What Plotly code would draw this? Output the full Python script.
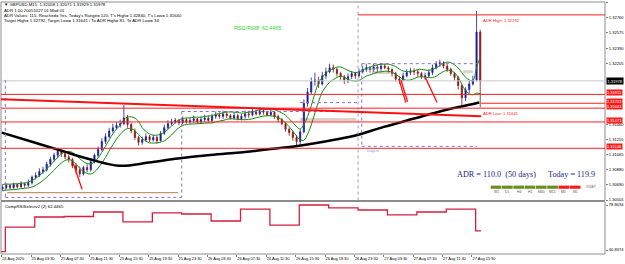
import pandas as pd
import plotly.graph_objects as go

# ---------------- data ----------------
header_lines = [
    "\u25bc GBPUSD,M15  1.32058 1.32071 1.31929 1.31978",
    "ADR 1.00 20051027 01 Mod 01",
    "ADR Values: 115, Reached= Yes, Today's Range= 120, T's High= 1.32840, T's Low= 1.31640",
    "Target High= 1.32792, Target Low= 1.31641 / To ADR High= 81, To ADR Low= 34",
]
candle_start = "2020-08-24 23:37:30"   # centre of first 30-min candle
first_open = 1.3065
closes = [
    1.3066, 1.3069, 1.3066, 1.3070, 1.3067, 1.3071, 1.3069, 1.3072,
    1.3079, 1.3081, 1.3086, 1.3088, 1.3095, 1.3101, 1.3106, 1.3111,
    1.3108, 1.3104, 1.3101, 1.3093, 1.3088, 1.3083, 1.3091, 1.3088,
    1.3098, 1.3106, 1.3113, 1.3123, 1.3129, 1.3136, 1.3140, 1.3143,
    1.3145, 1.3152, 1.3144, 1.3136, 1.3128, 1.3122, 1.3125, 1.3129,
    1.3125, 1.3128, 1.3124, 1.3133, 1.3140, 1.3145, 1.3147, 1.3149,
    1.3146, 1.3150, 1.3147, 1.3149, 1.3151, 1.3147, 1.3150, 1.3152,
    1.3149, 1.3154, 1.3156, 1.3154, 1.3157, 1.3155, 1.3152, 1.3155,
    1.3151, 1.3154, 1.3157, 1.3156, 1.3160, 1.3157, 1.3161, 1.3159,
    1.3156, 1.3159, 1.3154, 1.3150, 1.3145, 1.3138, 1.3134, 1.3128,
    1.3123, 1.3135, 1.3170, 1.3184, 1.3197, 1.3199, 1.3194, 1.3204,
    1.3209, 1.3214, 1.3212, 1.3207, 1.3203, 1.3199, 1.3203, 1.3207,
    1.3204, 1.3209, 1.3212, 1.3214, 1.3212, 1.3215, 1.3213, 1.3216,
    1.3214, 1.3212, 1.3207, 1.3200, 1.3199, 1.3204, 1.3208, 1.3210,
    1.3209, 1.3207, 1.3203, 1.3204, 1.3208, 1.3214, 1.3219, 1.3220,
    1.3216, 1.3212, 1.3207, 1.3202, 1.3192, 1.3177, 1.3187, 1.3194,
    1.3199, 1.3258, 1.31978,
]
highs = [
    1.3070, 1.3071, 1.3070, 1.3072, 1.3071, 1.3074, 1.3072, 1.3076,
    1.3081, 1.3085, 1.3090, 1.3092, 1.3098, 1.3104, 1.3109, 1.3114,
    1.3113, 1.3111, 1.3107, 1.3103, 1.3096, 1.3092, 1.3093, 1.3095,
    1.3101, 1.3108, 1.3117, 1.3127, 1.3133, 1.3140, 1.3145, 1.3147,
    1.3150, 1.3168, 1.3156, 1.3146, 1.3139, 1.3130, 1.3129, 1.3133,
    1.3131, 1.3131, 1.3130, 1.3136, 1.3144, 1.3149, 1.3151, 1.3152,
    1.3151, 1.3154, 1.3152, 1.3152, 1.3155, 1.3152, 1.3154, 1.3156,
    1.3155, 1.3157, 1.3160, 1.3159, 1.3161, 1.3160, 1.3157, 1.3159,
    1.3157, 1.3157, 1.3161, 1.3161, 1.3163, 1.3162, 1.3165, 1.3163,
    1.3161, 1.3162, 1.3160, 1.3156, 1.3152, 1.3147, 1.3140, 1.3136,
    1.3131, 1.3138, 1.3175, 1.3189, 1.3202, 1.3208, 1.3203, 1.3209,
    1.3214, 1.3219, 1.3218, 1.3214, 1.3209, 1.3205, 1.3207, 1.3210,
    1.3209, 1.3213, 1.3216, 1.3219, 1.3216, 1.3219, 1.3218, 1.3220,
    1.3219, 1.3216, 1.3213, 1.3209, 1.3204, 1.3208, 1.3212, 1.3214,
    1.3213, 1.3212, 1.3209, 1.3208, 1.3212, 1.3218, 1.3222, 1.3224,
    1.3222, 1.3219, 1.3214, 1.3209, 1.3204, 1.3194, 1.3190, 1.3198,
    1.3204, 1.3284, 1.3261,
]
lows = [
    1.3062, 1.3064, 1.3064, 1.3065, 1.3065, 1.3066, 1.3066, 1.3067,
    1.3070, 1.3076, 1.3079, 1.3083, 1.3086, 1.3092, 1.3098, 1.3103,
    1.3104, 1.3101, 1.3097, 1.3090, 1.3083, 1.3079, 1.3081, 1.3085,
    1.3086, 1.3096, 1.3103, 1.3111, 1.3120, 1.3127, 1.3134, 1.3138,
    1.3140, 1.3143, 1.3140, 1.3133, 1.3125, 1.3118, 1.3119, 1.3123,
    1.3122, 1.3123, 1.3120, 1.3123, 1.3131, 1.3138, 1.3143, 1.3145,
    1.3143, 1.3144, 1.3145, 1.3145, 1.3146, 1.3145, 1.3145, 1.3147,
    1.3146, 1.3146, 1.3151, 1.3151, 1.3151, 1.3152, 1.3150, 1.3150,
    1.3149, 1.3149, 1.3151, 1.3152, 1.3154, 1.3155, 1.3155, 1.3156,
    1.3154, 1.3154, 1.3151, 1.3147, 1.3143, 1.3135, 1.3130, 1.3124,
    1.3117, 1.3119, 1.3133, 1.3166, 1.3181, 1.3192, 1.3189, 1.3192,
    1.3200, 1.3207, 1.3208, 1.3203, 1.3199, 1.3194, 1.3195, 1.3200,
    1.3200, 1.3202, 1.3207, 1.3209, 1.3208, 1.3209, 1.3209, 1.3210,
    1.3212, 1.3208, 1.3203, 1.3197, 1.3194, 1.3197, 1.3202, 1.3205,
    1.3205, 1.3203, 1.3200, 1.3199, 1.3202, 1.3205, 1.3212, 1.3215,
    1.3213, 1.3209, 1.3204, 1.3198, 1.3187, 1.3168, 1.3173, 1.3183,
    1.3192, 1.3197, 1.3165,
]

# slow moving average (black)
ma_times = ["2020-08-24 23:30", "2020-08-25 03:30", "2020-08-25 07:30", "2020-08-25 11:30",
            "2020-08-25 15:30", "2020-08-25 19:30", "2020-08-25 23:30", "2020-08-26 03:30",
            "2020-08-26 07:30", "2020-08-26 11:30", "2020-08-26 15:30", "2020-08-26 19:30",
            "2020-08-26 23:30", "2020-08-27 03:30", "2020-08-27 07:30", "2020-08-27 11:30",
            "2020-08-27 15:30", "2020-08-27 16:30"]
ma_values = [1.3134, 1.3123, 1.3112, 1.3101, 1.3093, 1.3097, 1.3102, 1.3106, 1.3109,
             1.3113, 1.3117, 1.3123, 1.3130, 1.3141, 1.3151, 1.3161, 1.3169, 1.3171]

# CompRSISelect v2 step line (H4 values)
rsi_times = ["2020-08-24 23:15", "2020-08-25 00:00", "2020-08-25 04:00", "2020-08-25 08:00",
             "2020-08-25 12:00", "2020-08-25 16:00", "2020-08-25 20:00", "2020-08-26 00:00",
             "2020-08-26 04:00", "2020-08-26 08:00", "2020-08-26 12:00", "2020-08-26 16:00",
             "2020-08-26 20:00", "2020-08-27 00:00", "2020-08-27 04:00", "2020-08-27 08:00",
             "2020-08-27 12:00", "2020-08-27 16:00", "2020-08-27 16:45"]
rsi_values = [39.5, 60.2, 68.7, 69.1, 72.9, 64.5, 72.1, 71.2, 65.3, 75.4, 61.9, 78.8,
              76.3, 74.6, 70.4, 72.9, 75.4, 56.9, 56.9]

x_tick_times = ["2020-08-24 23:30", "2020-08-25 03:30", "2020-08-25 07:30", "2020-08-25 11:30",
                "2020-08-25 15:30", "2020-08-25 19:30", "2020-08-25 23:30", "2020-08-26 03:30",
                "2020-08-26 07:30", "2020-08-26 11:30", "2020-08-26 15:30", "2020-08-26 19:30",
                "2020-08-26 23:30", "2020-08-27 03:30", "2020-08-27 07:30", "2020-08-27 11:30",
                "2020-08-27 15:30"]
x_tick_labels = ["24 Aug 2020", "25 Aug 03:30", "25 Aug 07:30", "25 Aug 11:30", "25 Aug 15:30",
                 "25 Aug 19:30", "25 Aug 23:30", "26 Aug 03:30", "26 Aug 07:30", "26 Aug 11:30",
                 "26 Aug 15:30", "26 Aug 19:30", "26 Aug 23:30", "27 Aug 03:30", "27 Aug 07:30",
                 "27 Aug 11:30", "27 Aug 15:30"]
# price-scale labels (evenly spaced grid; those under the price boxes are hidden in the reference)
price_scale_top = 1.32945
price_scale_step = 0.001875
price_tick_slots = [0, 1, 2, 3, 4, 8, 9, 10, 11, 12, 13]
price_tick_labels = ["1.32945", "1.32760", "1.32575", "1.32390", "1.32205",
                     "1.31460", "1.31255", "1.31065", "1.30880", "1.30690", "1.30505"]
rsi_ticks = [78.8034, 40.8374]

current_price = 1.31978
adr_high = 1.32792
adr_high_start = "2020-08-27 00:00"
full_levels = [1.31811, 1.31641, 1.31471, 1.31146]
short_level = 1.31702
short_level_start = "2020-08-27 16:45"
label_levels = [1.31811, 1.31702, 1.31641, 1.31471, 1.31146]
trend_times = ["2020-08-24 23:15", "2020-08-27 16:45"]
trend_prices = [1.31751, 1.31542]
arrows = [  # (t0, p0, t1, p1)
    ("2020-08-25 09:12", 1.3097, "2020-08-25 10:26", 1.3064),
    ("2020-08-27 05:36", 1.3199, "2020-08-27 06:30", 1.3171),
    ("2020-08-27 05:50", 1.3199, "2020-08-27 06:44", 1.3172),
    ("2020-08-27 09:06", 1.3203, "2020-08-27 10:45", 1.3171),
]
purple_dotted = [  # (t0, p0, t1, p1)
    ("2020-08-25 00:00", 1.3199, "2020-08-25 00:00", 1.3054),
    ("2020-08-25 00:00", 1.3054, "2020-08-26 00:00", 1.3054),
    ("2020-08-26 00:00", 1.3160, "2020-08-26 00:00", 1.3054),
    ("2020-08-26 00:00", 1.3160, "2020-08-27 00:00", 1.3160),
    ("2020-08-26 16:06", 1.3171, "2020-08-27 00:00", 1.3171),
    ("2020-08-27 00:30", 1.3219, "2020-08-27 00:30", 1.3117),
    ("2020-08-27 00:30", 1.3219, "2020-08-27 16:12", 1.3219),
    ("2020-08-27 00:30", 1.3117, "2020-08-27 16:12", 1.3117),
]
tan_line = ("2020-08-25 00:15", "2020-08-25 23:30", 1.3060)
pale_zones = [
    ("2020-08-26 16:06", "2020-08-26 23:45", 1.3150),
    ("2020-08-27 01:54", "2020-08-27 04:21", 1.3208),
    ("2020-08-27 14:18", "2020-08-27 15:39", 1.3209),
]
day_sep = "2020-08-27 00:00"
tf_names = ["W1", "D1", "H4", "H1", "M30", "M15", "M5", "M1"]
tf_up = [True, True, True, True, True, True, False, False]

# ---------------- geometry helpers ----------------
W, H = 625, 264
ML, MR, MT, MB = 1, 20, 2, 10
PW, PH = W - ML - MR, H - MT - MB
def px(x): return (x - ML) / PW
def py(y): return (H - MB - y) / PH

main_dom = [py(200.5), 1.0]
rsi_dom = [0.0, py(201.5)]
X_END = "2020-08-28 09:36:18"

candle_times = pd.date_range(candle_start, periods=len(closes), freq="30min")
opens = [first_open] + closes[:-1]
upper_band = pd.Series(highs).rolling(5, min_periods=1).mean()
lower_band = pd.Series(lows).rolling(5, min_periods=1).mean()
price_tickvals = [price_scale_top - i * price_scale_step for i in price_tick_slots]

FONT = "Liberation Sans"
fig = go.Figure()
fig.add_trace(go.Scatter(x=candle_times, y=upper_band, mode="lines",
                         line=dict(color="#138a13", width=1, shape="spline"), hoverinfo="skip"))
fig.add_trace(go.Scatter(x=candle_times, y=lower_band, mode="lines",
                         line=dict(color="#138a13", width=1, shape="spline"), hoverinfo="skip"))
fig.add_trace(go.Candlestick(
    x=candle_times, open=opens, high=highs, low=lows, close=closes,
    increasing=dict(line=dict(color="#1c1c9a", width=0.8), fillcolor="#1c1c9a"),
    decreasing=dict(line=dict(color="#8a1414", width=0.8), fillcolor="#8a1414"),
    whiskerwidth=0, hoverinfo="skip"))
fig.add_trace(go.Scatter(x=ma_times, y=ma_values, mode="lines",
                         line=dict(color="black", width=2.5, shape="spline"), hoverinfo="skip"))
fig.add_trace(go.Scatter(x=rsi_times, y=rsi_values, mode="lines", yaxis="y2",
                         line=dict(color="#d81e3c", width=1.3, shape="hv"), hoverinfo="skip"))

shapes = []
for dom in (main_dom, rsi_dom):
    shapes.append(dict(type="rect", xref="paper", yref="paper", x0=0, x1=1, y0=dom[0], y1=dom[1],
                       line=dict(color="#8c8c8c", width=1)))
shapes.append(dict(type="line", xref="x", yref="paper", x0=day_sep, x1=day_sep,
                   y0=main_dom[0], y1=main_dom[1], line=dict(color="#a0a0a0", width=1, dash="dot")))
shapes.append(dict(type="line", xref="paper", yref="y", x0=0, x1=1, y0=current_price, y1=current_price,
                   line=dict(color="#c8c8c8", width=1)))
for t0, p0, t1, p1 in purple_dotted:
    shapes.append(dict(type="line", xref="x", yref="y", x0=t0, x1=t1, y0=p0, y1=p1,
                       line=dict(color="#8a6ad0", width=1, dash="dot")))
shapes.append(dict(type="line", xref="x", yref="y", x0=tan_line[0], x1=tan_line[1],
                   y0=tan_line[2], y1=tan_line[2], line=dict(color="#c8966e", width=1.2)))
for t0, t1, p in pale_zones:
    shapes.append(dict(type="line", xref="x", yref="y", x0=t0, x1=t1, y0=p, y1=p,
                       line=dict(color="#ddd0c8", width=3), layer="below"))
for lv in full_levels:
    shapes.append(dict(type="line", xref="paper", yref="y", x0=0, x1=1, y0=lv, y1=lv,
                       line=dict(color="#ff2020", width=1)))
shapes.append(dict(type="line", xref="x", yref="y", x0=short_level_start, x1=X_END,
                   y0=short_level, y1=short_level, line=dict(color="#ff2020", width=1)))
shapes.append(dict(type="line", xref="x", yref="y", x0=adr_high_start, x1=X_END,
                   y0=adr_high, y1=adr_high, line=dict(color="#ff2020", width=1)))
shapes.append(dict(type="line", xref="x", yref="y", x0=trend_times[0], x1=trend_times[1],
                   y0=trend_prices[0], y1=trend_prices[1], line=dict(color="#ff1010", width=2)))
for t0, p0, t1, p1 in arrows:
    shapes.append(dict(type="line", xref="x", yref="y", x0=t0, x1=t1, y0=p0, y1=p1,
                       line=dict(color="#ff1010", width=1.3)))
seg_w = 11.3
for i, (name, up) in enumerate(zip(tf_names, tf_up)):
    x0 = 490.7 + i * seg_w
    shapes.append(dict(type="rect", xref="paper", yref="paper",
                       x0=px(x0), x1=px(x0 + seg_w - 0.6), y0=py(188.8), y1=py(185.6),
                       fillcolor="#6b8e23" if up else "#ff1a1a", line=dict(width=0)))

ann = []
def text(x, y, s, size, color="black", family=FONT, anchor="left"):
    ann.append(dict(xref="paper", yref="paper", x=px(x), y=py(y), text=s, showarrow=False,
                    xanchor=anchor, yanchor="middle", font=dict(size=size, color=color, family=family)))

for i, line in enumerate(header_lines):
    text(2, 5 + i * 5.1, line, 4.3)
text(232, 28, "RSI2/RSI8: 62.4465", 5.3, color="#2ed02e")
ann.append(dict(xref="x", yref="y", x="2020-08-27 16:45", y=adr_high, text="ADR High: 1.32792",
                showarrow=False, xanchor="left", yanchor="top", yshift=-1,
                font=dict(size=4.2, color="#ff2020", family=FONT)))
ann.append(dict(xref="x", yref="y", x="2020-08-27 16:45", y=1.31641, text="ADR Low: 1.31641",
                showarrow=False, xanchor="left", yanchor="top", yshift=-1,
                font=dict(size=4.2, color="#ff2020", family=FONT)))
ann.append(dict(xref="x", yref="y", x="2020-08-27 01:00", y=1.3219, text="DayHi", showarrow=False,
                xanchor="left", yanchor="top", font=dict(size=4, color="#6aa8e0", family=FONT)))
ann.append(dict(xref="x", yref="y", x="2020-08-27 01:00", y=1.3117, text="DayLo", showarrow=False,
                xanchor="left", yanchor="top", font=dict(size=4, color="#6aa8e0", family=FONT)))
text(455, 174, "ADR = 110.0  (50 days)", 8.2, color="#1e1e8c", family="Liberation Serif")
text(546, 174, "Today = 119.9", 8.2, color="#1e1e8c", family="Liberation Serif")
for i, name in enumerate(tf_names):
    text(490.7 + i * seg_w + seg_w / 2 - 0.3, 192.3, name, 3.4, color="#505050", anchor="center")
text(584, 187, "SWAP", 3.4, color="#808080")
text(3, 206, "CompRSISelectv2 (2) 62.4465", 4.3)
for lv in label_levels:
    ann.append(dict(xref="paper", yref="y", x=px(605.5), y=lv, text=f"{lv:.5f}", showarrow=False,
                    xanchor="left", yanchor="middle", bgcolor="#ff1a1a", borderpad=0, yshift=1.5,
                    font=dict(size=4.0, color="white", family=FONT)))
ann.append(dict(xref="paper", yref="y", x=px(605.5), y=current_price, text=f"{current_price:.5f}",
                showarrow=False, xanchor="left", yanchor="middle", bgcolor="black", borderpad=0.5,
                font=dict(size=4.0, color="white", family=FONT)))

fig.update_layout(
    width=W, height=H, margin=dict(l=ML, r=MR, t=MT, b=MB, autoexpand=False),
    paper_bgcolor="white", plot_bgcolor="white", showlegend=False, boxgap=0.55,
    shapes=shapes, annotations=ann,
    xaxis=dict(type="date", range=["2020-08-24 23:24:17", X_END], anchor="y2",
               tickvals=x_tick_times, ticktext=x_tick_labels, ticklabelposition="outside right",
               tickangle=0, automargin=False,
               tickfont=dict(size=3.9, family=FONT, color="black"), ticks="outside", ticklen=2,
               tickcolor="#808080", showgrid=False, zeroline=False, showline=False,
               rangeslider=dict(visible=False)),
    yaxis=dict(domain=main_dom, range=[1.30502, 1.32951], side="right", anchor="x",
               automargin=False,
               tickvals=price_tickvals, ticktext=price_tick_labels,
               tickfont=dict(size=4.1, family=FONT, color="black"), ticks="outside", ticklen=2,
               tickcolor="#808080", showgrid=False, zeroline=False, showline=False),
    yaxis2=dict(domain=rsi_dom, range=[37.46, 81.76], side="right", anchor="x",
                automargin=False,
                tickvals=rsi_ticks, ticktext=[f"{v:.4f}" for v in rsi_ticks],
                tickfont=dict(size=4.1, family=FONT, color="black"), ticks="outside", ticklen=2,
                tickcolor="#808080", showgrid=False, zeroline=False, showline=False),
)
fig.write_html("out.html", config={"displayModeBar": False})
